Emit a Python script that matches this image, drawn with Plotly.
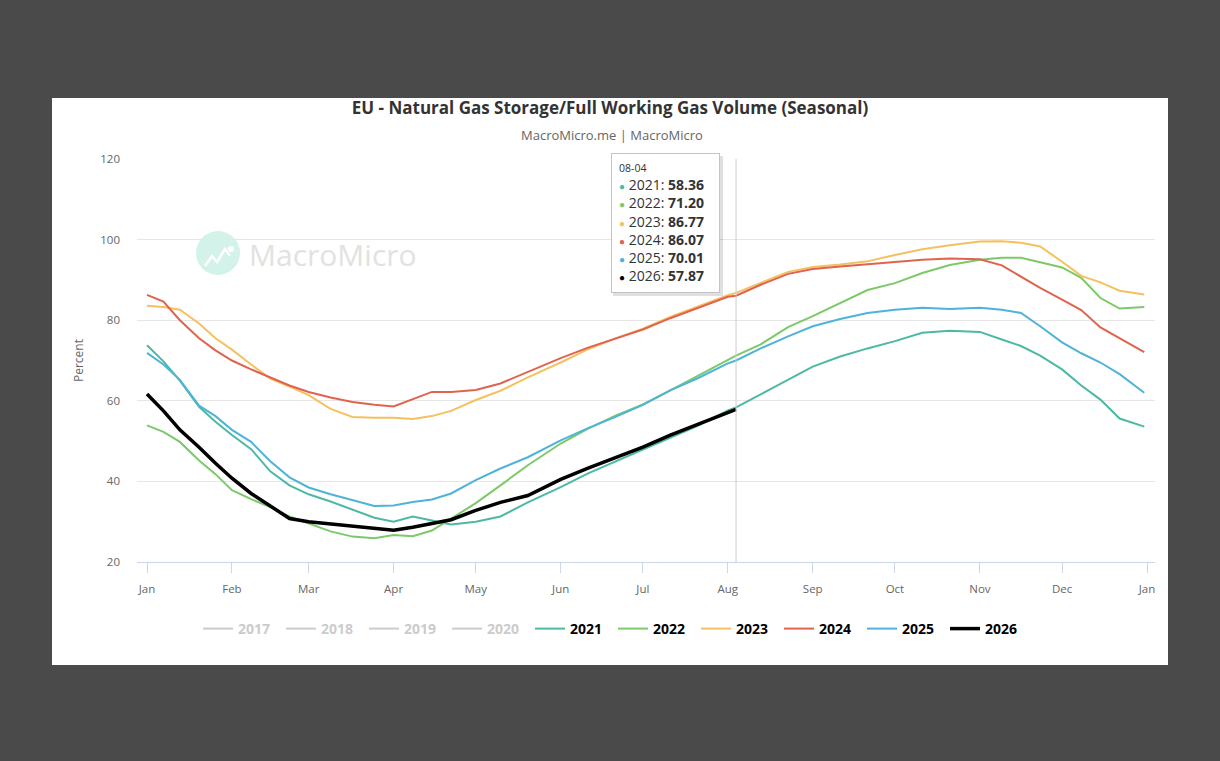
import plotly.graph_objects as go

# day labels (MM-DD), same calendar for every season
days = ["01-01", "01-07", "01-13", "01-20", "01-26", "02-01", "02-08", "02-15", "02-22",
        "03-01", "03-09", "03-17", "03-25", "04-01", "04-08", "04-15", "04-22", "05-01",
        "05-10", "05-20", "06-01", "06-11", "06-21", "07-01", "07-11", "07-21", "08-01",
        "08-04", "08-13", "08-23", "09-01", "09-11", "09-21", "10-01", "10-11", "10-21",
        "11-01", "11-09", "11-16", "11-23", "12-01", "12-08", "12-15", "12-22", "12-31"]

y2021 = [73.8, 69.8, 65.0, 58.5, 54.8, 51.5, 48.0, 42.5, 39.0, 36.8, 35.0, 33.0, 31.0,
         30.0, 31.3, 30.3, 29.3, 30.0, 31.3, 34.8, 38.6, 42.0, 45.0, 47.8, 50.8, 53.8,
         57.6, 58.36, 61.6, 65.3, 68.5, 71.0, 73.0, 74.8, 76.9, 77.4, 77.1, 75.2, 73.6,
         71.2, 67.8, 63.8, 60.3, 55.6, 53.6]
y2022 = [53.9, 52.3, 49.8, 45.2, 41.8, 37.8, 35.6, 33.6, 31.3, 29.5, 27.6, 26.3, 25.9,
         26.7, 26.4, 27.8, 30.8, 34.6, 39.0, 44.0, 49.4, 53.1, 56.3, 59.1, 62.6, 66.2,
         70.0, 71.20, 74.0, 78.3, 81.0, 84.3, 87.5, 89.2, 91.7, 93.7, 95.0, 95.5, 95.5,
         94.4, 93.1, 90.5, 85.5, 82.9, 83.3]
y2023 = [83.6, 83.3, 82.6, 79.2, 75.5, 72.7, 69.0, 65.5, 63.5, 61.4, 58.0, 56.0, 55.8,
         55.8, 55.5, 56.2, 57.5, 60.2, 62.5, 65.8, 69.5, 72.8, 75.5, 77.9, 80.8, 83.4,
         86.2, 86.77, 89.3, 92.0, 93.2, 93.8, 94.6, 96.2, 97.6, 98.6, 99.5, 99.6, 99.2,
         98.3, 94.5, 91.0, 89.4, 87.3, 86.4]
y2024 = [86.3, 84.6, 80.0, 75.5, 72.5, 70.0, 67.8, 65.7, 63.8, 62.2, 60.8, 59.7, 59.0,
         58.6, 60.5, 62.2, 62.2, 62.7, 64.3, 67.2, 70.6, 73.2, 75.5, 77.7, 80.5, 83.0,
         85.8, 86.07, 88.8, 91.5, 92.7, 93.3, 93.9, 94.5, 95.0, 95.3, 95.1, 93.6, 90.8,
         88.0, 85.1, 82.5, 78.2, 75.6, 72.1]
y2025 = [71.9, 69.0, 65.2, 58.8, 56.2, 52.8, 49.8, 45.0, 41.0, 38.5, 36.8, 35.3, 33.9,
         34.0, 34.9, 35.5, 37.0, 40.3, 43.2, 46.0, 50.2, 53.2, 56.0, 59.0, 62.6, 65.6,
         69.3, 70.01, 73.0, 76.0, 78.5, 80.3, 81.8, 82.6, 83.1, 82.8, 83.1, 82.6, 81.8,
         78.5, 74.5, 71.8, 69.5, 66.6, 62.0]
y2026 = [61.7, 57.5, 52.8, 48.5, 44.5, 40.8, 37.0, 33.8, 30.8, 30.0, 29.5, 29.0, 28.5,
         27.9, 28.6, 29.5, 30.5, 32.8, 34.8, 36.5, 40.5, 43.3, 46.0, 48.5, 51.5, 54.2,
         57.0, 57.87]

hidden_years = ["2017", "2018", "2019", "2020"]
years = ["2021", "2022", "2023", "2024", "2025", "2026"]
series = [y2021, y2022, y2023, y2024, y2025, y2026]
colors = ["#4cb9a4", "#7cc96a", "#f5c060", "#e0634e", "#4fb3d9", "#000000"]
widths = [2, 2, 2, 2, 2, 3.5]

hover_day = "08-04"

x = ["2001-" + d for d in days]

# plot area in page pixels, used to place decorations
L, R, T, B = 137, 1155, 159, 562


def px(xp):
    return (xp - L) / (R - L)


def py(yp):
    return (B - yp) / (B - T)


fig = go.Figure()

for yr in hidden_years:
    fig.add_trace(go.Scatter(x=[x[0]], y=[None], mode="lines", visible="legendonly",
                             name="<b><span style='color:#999'>" + yr + "</span></b>",
                             line=dict(color="#999", width=2)))

for yr, vals, c, w in zip(years, series, colors, widths):
    fig.add_trace(go.Scatter(x=x[:len(vals)], y=vals, mode="lines", name="<b>" + yr + "</b>",
                             line=dict(color=c, width=w)))

# crosshair at hovered day
fig.add_vline(x="2001-" + hover_day, line=dict(color="#cccccc", width=1))

# tooltip box with a soft shadow
fig.add_shape(type="rect", xref="paper", yref="paper", x0=px(613), x1=px(723), y0=py(296), y1=py(156),
              fillcolor="rgba(0,0,0,0.12)", line=dict(width=0), layer="above")
i = days.index(hover_day)
rows = ["<span style='font-size:10.5px;color:#333'>" + hover_day + "</span>"]
for yr, vals, c in zip(years, series, colors):
    rows.append("<span style='color:%s;font-size:10px'>●</span> %s: <b>%.2f</b>" % (c, yr, vals[i]))
fig.add_annotation(xref="paper", yref="paper", x=px(611), y=py(153), xanchor="left", yanchor="top",
                   text="<br>".join(rows), showarrow=False, align="left", width=93,
                   font=dict(family="Open Sans", size=14, color="#333"),
                   bgcolor="white", bordercolor="#c4c4c4", borderwidth=1, borderpad=7)

# white card behind the chart
fig.add_shape(type="rect", xref="paper", yref="paper", x0=px(52), x1=px(1168), y0=py(665), y1=py(98),
              fillcolor="white", line=dict(width=0), layer="below")

# watermark
fig.add_shape(type="circle", xref="paper", yref="paper", x0=px(196), x1=px(240), y0=py(275), y1=py(231),
              fillcolor="#d3f2ea", line=dict(width=0), layer="below")
icon = [(205, 266), (212, 256), (217, 262), (225, 249), (230, 256)]
fig.add_shape(type="path", xref="paper", yref="paper", layer="below",
              path="M " + " L ".join("%f,%f" % (px(a), py(b)) for a, b in icon),
              line=dict(color="white", width=2.5))
fig.add_shape(type="circle", xref="paper", yref="paper", layer="below",
              x0=px(228), x1=px(234), y0=py(252), y1=py(246),
              fillcolor="white", line=dict(width=0))
fig.add_annotation(xref="paper", yref="paper", x=px(247), y=py(254), xanchor="left", yanchor="middle",
                   text="MacroMicro", showarrow=False,
                   font=dict(family="Open Sans", size=30, color="#e2e2e2"))

fig.add_annotation(xref="paper", yref="paper", x=px(612), y=py(135), yanchor="middle",
                   text="MacroMicro.me | MacroMicro", showarrow=False,
                   font=dict(family="Open Sans", size=13, color="#666666"))

fig.update_layout(
    width=1220, height=761,
    margin=dict(l=L, r=1220 - R, t=T, b=761 - B),
    paper_bgcolor="#4a4a4a", plot_bgcolor="white",
    font=dict(family="Open Sans", color="#666666"),
    title=dict(text="<b>EU - Natural Gas Storage/Full Working Gas Volume (Seasonal)</b>",
               x=0.5, xanchor="center", y=1 - 108 / 761, yanchor="middle",
               font=dict(family="Open Sans", size=17, color="#333333")),
    showlegend=True,
    legend=dict(orientation="h", x=px(613), xanchor="center", y=py(629), yanchor="middle",
                font=dict(family="Open Sans", size=14, color="#000000"),
                bgcolor="rgba(0,0,0,0)", entrywidth=38, itemwidth=30),
    hovermode=False,
)
fig.update_xaxes(type="date", range=["2000-12-28 08:24", "2002-01-03 22:00"],
                 tick0="2001-01-01", dtick="M1", tickformat="%b",
                 showgrid=False, showline=True, linecolor="#ccd6eb",
                 ticks="outside", tickcolor="#ccd6eb", ticklen=10, ticklabelstandoff=6,
                 tickfont=dict(size=11.5, color="#666666"), zeroline=False)
fig.update_yaxes(range=[20, 120], dtick=20, showgrid=True, gridcolor="#e6e6e6",
                 zeroline=False, showline=False, ticklabelstandoff=16,
                 tickfont=dict(size=11.5, color="#666666"),
                 title=dict(text="Percent", font=dict(size=12, color="#666666"), standoff=14))

fig.write_html("out.html", config={"displayModeBar": False},
               post_script="document.body.style.margin='0';")
